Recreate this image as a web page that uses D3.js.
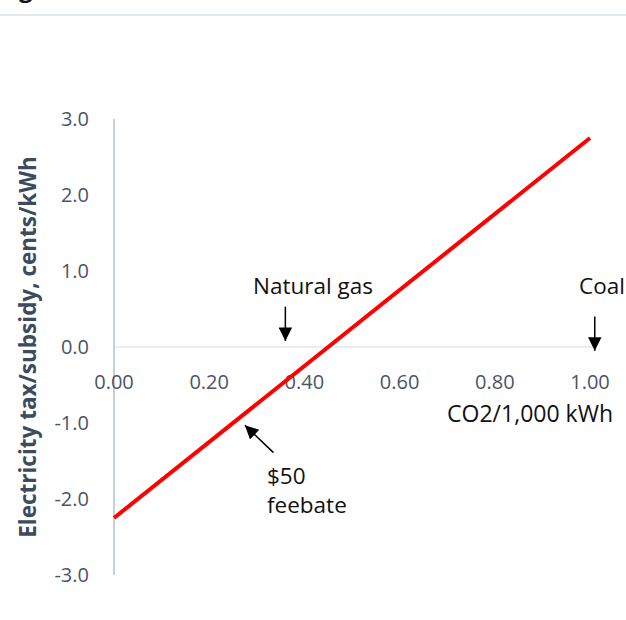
<!DOCTYPE html>
<html><head><meta charset="utf-8">
<script src="https://cdn.jsdelivr.net/npm/d3@7"></script>
<style>body{margin:0;background:#fff}svg{display:block}text{font-family:"Open Sans","Noto Sans",sans-serif}</style>
</head><body><svg id="c" width="626" height="620"></svg>
<script>
const lineX = [0.0, 1.0];
const lineY = [-2.25, 2.75];
const yTicks = [-3, -2, -1, 0, 1, 2, 3];
const xTicks = [0, 0.2, 0.4, 0.6, 0.8, 1.0];
const annotations = [
  {label: "Natural gas", x: 0.36, y0: 0.53, y1: 0.08, lx: 313, anchor: "middle"},
  {label: "Coal", x: 1.01, y0: 0.4, y1: -0.05, lx: 625, anchor: "end"}
];
const svg = d3.select("#c");
const x = d3.scaleLinear().domain([0, 1]).range([114, 590]);
const y = d3.scaleLinear().domain([-3, 3]).range([575, 119]);
const fmt1 = d => d3.format(".1f")(d).replace("−", "-");

svg.append("defs").append("marker").attr("id","ah").attr("viewBox","0 0 10 10")
  .attr("refX",10).attr("refY",5).attr("markerWidth",9).attr("markerHeight",9)
  .attr("markerUnits","strokeWidth").attr("orient","auto")
  .append("path").attr("d","M0,0L10,5L0,10Z").attr("fill","#000");

// cropped title fragment and separator
svg.append("text").attr("x",19).attr("y",-3).attr("font-size",24).attr("font-weight","bold").attr("fill","#111").text("g");
svg.append("line").attr("x1",0).attr("x2",626).attr("y1",15).attr("y2",15).attr("stroke","#e2e8f0").attr("stroke-width",2);

// zero gridline
svg.append("line").attr("x1",x(0)).attr("x2",x(1.006)).attr("y1",y(0)).attr("y2",y(0)).attr("stroke","#e2e8f0").attr("stroke-width",1.5);
// y axis line
svg.append("line").attr("x1",x(0)).attr("x2",x(0)).attr("y1",y(3)).attr("y2",y(-3)).attr("stroke","#b4c0d0").attr("stroke-width",1.5);

svg.selectAll(".yt").data(yTicks).join("text").attr("x",89).attr("y",d=>y(d)+7)
  .attr("text-anchor","end").attr("font-size",20).attr("fill","#4a5568").text(fmt1);
svg.selectAll(".xt").data(xTicks).join("text").attr("x",d=>x(d)).attr("y",y(0)+42)
  .attr("text-anchor","middle").attr("font-size",20).attr("fill","#4a5568").text(d=>d3.format(".2f")(d));

svg.append("text").attr("transform",`translate(36,${y(0)}) rotate(-90)`).attr("text-anchor","middle")
  .attr("font-size",22.5).attr("font-weight","bold").attr("fill","#3d4b5f").text("Electricity tax/subsidy, cents/kWh");
svg.append("text").attr("x",613).attr("y",y(0)+75).attr("text-anchor","end").attr("font-size",23).attr("fill","#111").text("CO2/1,000 kWh");

// line
svg.append("path").datum(lineX.map((d,i)=>[d,lineY[i]]))
  .attr("d", d3.line().x(d=>x(d[0])).y(d=>y(d[1])))
  .attr("stroke","#ff0000").attr("stroke-width",4).attr("fill","none");

// annotations
annotations.forEach(a=>{
  svg.append("line").attr("x1",x(a.x)).attr("x2",x(a.x)).attr("y1",y(a.y0)).attr("y2",y(a.y1))
    .attr("stroke","#000").attr("stroke-width",1.5).attr("marker-end","url(#ah)");
  svg.append("text").attr("x",a.lx).attr("y",294).attr("text-anchor",a.anchor).attr("font-size",22.5).attr("fill","#111").text(a.label);
});
svg.append("line").attr("x1",x(0.335)).attr("x2",x(0.275)).attr("y1",y(-1.39)).attr("y2",y(-1.03))
  .attr("stroke","#000").attr("stroke-width",1.5).attr("marker-end","url(#ah)");
svg.append("text").attr("x",267).attr("y",484).attr("font-size",22.5).attr("fill","#111").text("$50");
svg.append("text").attr("x",267).attr("y",513).attr("font-size",22.5).attr("fill","#111").text("feebate");
</script></body></html>
